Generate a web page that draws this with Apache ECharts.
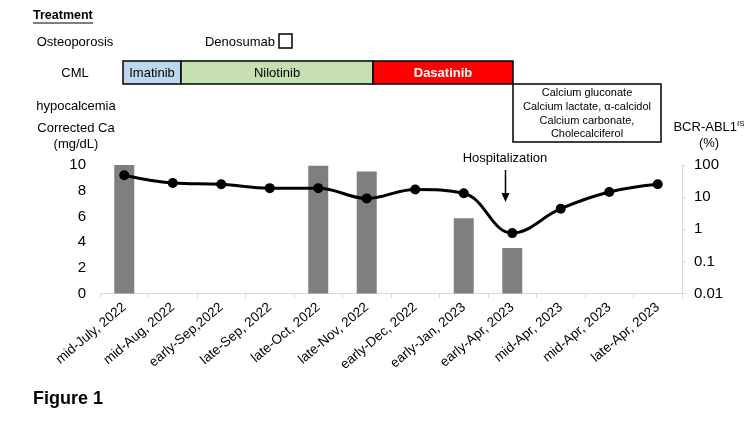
<!DOCTYPE html>
<html><head><meta charset="utf-8">
<script src="https://cdn.jsdelivr.net/npm/echarts@6/dist/echarts.min.js"></script>
<style>html,body{margin:0;padding:0;background:#fff}#c{width:750px;height:422px}</style>
</head><body><div id="c"></div>
<script>
const categories = ['mid-July, 2022','mid-Aug, 2022','early-Sep,2022','late-Sep, 2022','late-Oct, 2022','late-Nov, 2022','early-Dec, 2022','early-Jan, 2023','early-Apr, 2023','mid-Apr, 2023','mid-Apr, 2023','late-Apr, 2023'];
const correctedCa = [9.2, 8.6, 8.5, 8.2, 8.2, 7.4, 8.1, 7.8, 4.7, 6.6, 7.9, 8.5];
const bcrAbl1 = [105, null, null, null, 95, 63, null, 2.2, 0.26, null, null, null];
const leftTicks = [0, 2, 4, 6, 8, 10];
const rightTicks = [0.01, 0.1, 1, 10, 100];

const F = '"Liberation Sans", Arial, sans-serif';
const chart = echarts.init(document.getElementById('c'));
const txt = (x, y, text, extra) => Object.assign({type:'text', x, y, style:Object.assign({text, fontFamily:F, fontSize:13, fill:'#000', textVerticalAlign:'middle'}, extra||{})});
chart.setOption({
  animation:false,
  grid:{left:100, right:68, top:165, bottom:128.5, containLabel:false},
  xAxis:{type:'category', data:categories, boundaryGap:true,
    axisLine:{lineStyle:{color:'#d9d9d9', width:1}},
    axisTick:{show:true, alignWithLabel:false, length:5, lineStyle:{color:'#d9d9d9'}},
    axisLabel:{rotate:40, interval:0, color:'#000', fontFamily:F, fontSize:13.5, margin:12}},
  yAxis:[
    {type:'value', min:leftTicks[0], max:leftTicks[leftTicks.length-1], interval:2, position:'left',
     axisLine:{show:false}, axisTick:{show:false}, splitLine:{show:false},
     axisLabel:{color:'#000', fontFamily:F, fontSize:15, margin:14}},
    {type:'log', logBase:10, min:rightTicks[0], max:rightTicks[rightTicks.length-1], position:'right', startValue:0.01,
     axisLine:{show:true, lineStyle:{color:'#d9d9d9'}}, axisTick:{show:true, length:4, lineStyle:{color:'#d9d9d9'}},
     splitLine:{show:false},
     axisLabel:{color:'#000', fontFamily:F, fontSize:15, margin:12,
       formatter:v=>{const r=rightTicks.find(t=>Math.abs(Math.log10(t)-Math.log10(v))<1e-6);return r!==undefined?String(r):'';}}}
  ],
  series:[
    {type:'bar', yAxisIndex:1, data:bcrAbl1.map(v=>v==null?'-':v), barWidth:20, itemStyle:{color:'#7f7f7f'}, z:2},
    {type:'line', yAxisIndex:0, data:correctedCa, smooth:0.4, symbol:'circle', symbolSize:10,
     lineStyle:{color:'#000', width:3}, itemStyle:{color:'#000'}, z:5}
  ],
  graphic:[
    txt(33, 16, 'Treatment', {fontWeight:'bold', fontSize:12.5}),
    {type:'line', shape:{x1:33, y1:23, x2:93, y2:23}, style:{stroke:'#000', lineWidth:1}},
    txt(75, 42, 'Osteoporosis', {textAlign:'center'}),
    txt(240, 42, 'Denosumab', {textAlign:'center'}),
    {type:'rect', shape:{x:279, y:34, width:13, height:14}, style:{fill:'#fff', stroke:'#000', lineWidth:1.5}},
    txt(75, 73, 'CML', {textAlign:'center'}),
    {type:'rect', shape:{x:123, y:61, width:58, height:23}, style:{fill:'#bdd7ee', stroke:'#000', lineWidth:1.5}},
    txt(152, 73, 'Imatinib', {textAlign:'center'}),
    {type:'rect', shape:{x:181, y:61, width:192, height:23}, style:{fill:'#c6e0b4', stroke:'#000', lineWidth:1.5}},
    txt(277, 73, 'Nilotinib', {textAlign:'center'}),
    {type:'rect', shape:{x:373, y:61, width:140, height:23}, style:{fill:'#ff0000', stroke:'#000', lineWidth:1.5}},
    txt(443, 73, 'Dasatinib', {textAlign:'center', fill:'#fff', fontWeight:'bold'}),
    txt(76, 106, 'hypocalcemia', {textAlign:'center'}),
    {type:'rect', shape:{x:513, y:84, width:148, height:58}, style:{fill:'#fff', stroke:'#000', lineWidth:1.5}},
    txt(587, 93, 'Calcium gluconate', {textAlign:'center', fontSize:11}),
    txt(587, 107, 'Calcium lactate, α-calcidol', {textAlign:'center', fontSize:11}),
    txt(587, 120.5, 'Calcium carbonate,', {textAlign:'center', fontSize:11}),
    txt(587, 134, 'Cholecalciferol', {textAlign:'center', fontSize:11}),
    txt(76, 128, 'Corrected Ca', {textAlign:'center'}),
    txt(76, 144, '(mg/dL)', {textAlign:'center'}),
    {type:'text', x:709, y:127, style:{text:'BCR-ABL1{s|IS}', fontFamily:F, fontSize:13, fill:'#000', textAlign:'center', textVerticalAlign:'middle', rich:{s:{fontSize:8, fontFamily:F, fill:'#000', verticalAlign:'top', padding:[0,0,6,0]}}}},
    txt(709, 143, '(%)', {textAlign:'center'}),
    txt(505, 158, 'Hospitalization', {textAlign:'center'}),
    {type:'line', shape:{x1:505.5, y1:170, x2:505.5, y2:196}, style:{stroke:'#000', lineWidth:1.5}},
    {type:'polygon', shape:{points:[[501.5,193],[509.5,193],[505.5,202]]}, style:{fill:'#000'}},
    txt(33, 399, 'Figure 1', {fontWeight:'bold', fontSize:18})
  ]
});
</script></body></html>
